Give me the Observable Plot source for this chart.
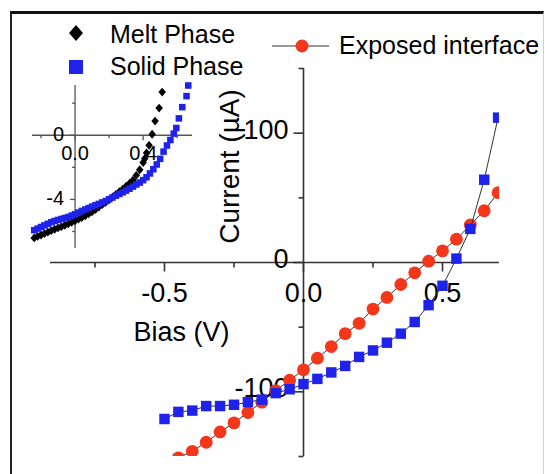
<!DOCTYPE html>
<html><head><meta charset="utf-8">
<script src="https://cdn.jsdelivr.net/npm/d3@7"></script>
<script src="https://cdn.jsdelivr.net/npm/@observablehq/plot@0.6"></script>
<style>
html,body{margin:0;padding:0;background:#fff;overflow:hidden;}
#wrap{position:relative;width:545px;height:474px;overflow:hidden;font-family:"Liberation Sans",Arial,sans-serif;}
#wrap svg{position:absolute;left:0;top:0;}
.frame{position:absolute;left:10px;top:11px;width:531px;height:480px;border-top:3px solid #111;border-left:2px solid #222;border-right:1px solid #d0d0d0;}
</style></head><body><div id="wrap"><div class="frame"></div></div>
<script>
// ---- Main chart data (Bias V, Current µA) ----
const exposedV = [-0.45,-0.40,-0.35,-0.30,-0.25,-0.20,-0.15,-0.10,-0.05,0.00,0.05,0.10,0.15,0.20,0.25,0.30,0.35,0.40,0.45,0.50,0.55,0.60,0.65,0.70];
const exposedI = [-151,-146,-139,-131,-124,-116,-108,-99,-91,-83,-74,-65,-55,-47,-36,-27,-17,-8,1,9,18,29,40,54];
const solidV = [-0.50,-0.45,-0.40,-0.35,-0.30,-0.25,-0.20,-0.15,-0.10,-0.05,0.00,0.05,0.10,0.15,0.20,0.25,0.30,0.35,0.40,0.45,0.50,0.55,0.60,0.65,0.70];
const solidI = [-121,-115.5,-114.5,-111,-111,-110,-108,-106,-101,-98,-94,-90,-85,-80,-73,-68,-62,-55,-46,-33,-18,3,26,64,112];

// ---- Inset data ----
const meltV = [-0.24,-0.22,-0.20,-0.18,-0.16,-0.14,-0.12,-0.10,-0.08,-0.06,-0.04,-0.02,0.00,0.02,0.04,0.06,0.08,0.10,0.12,0.14,0.16,0.18,0.20,0.22,0.24,0.26,0.28,0.30,0.32,0.34,0.36,0.38,0.40,0.41,0.42,0.435,0.453,0.47,0.494,0.512];
const meltI = [-6.40,-6.31,-6.22,-6.13,-6.04,-5.95,-5.86,-5.78,-5.70,-5.61,-5.52,-5.43,-5.33,-5.23,-5.13,-5.02,-4.90,-4.77,-4.63,-4.48,-4.33,-4.18,-4.02,-3.86,-3.69,-3.52,-3.36,-3.18,-3.00,-2.80,-2.50,-2.15,-1.70,-1.45,-1.10,-0.63,0.06,0.88,1.69,2.69];
const solidInsetV = [-0.24,-0.22,-0.20,-0.18,-0.16,-0.14,-0.12,-0.10,-0.08,-0.06,-0.04,-0.02,0.00,0.02,0.04,0.06,0.08,0.10,0.12,0.14,0.16,0.18,0.20,0.22,0.24,0.26,0.28,0.30,0.32,0.34,0.36,0.38,0.40,0.42,0.44,0.46,0.48,0.50,0.52,0.54,0.56,0.58,0.595,0.61,0.63,0.655,0.665];
const solidInsetI = [-5.92,-5.82,-5.72,-5.62,-5.52,-5.42,-5.35,-5.28,-5.22,-5.16,-5.10,-5.01,-4.92,-4.82,-4.72,-4.63,-4.54,-4.45,-4.36,-4.28,-4.19,-4.10,-3.99,-3.88,-3.77,-3.66,-3.56,-3.45,-3.33,-3.20,-3.07,-2.95,-2.80,-2.62,-2.38,-2.12,-1.82,-1.47,-1.02,-0.64,-0.30,0.10,0.45,1.05,1.75,2.44,3.1];

// ---- Ticks & labels ----
const mainXDomain = [-0.91, 0.705];
const mainYDomain = [-150, 150];
const mainXMajor = [-0.5, 0, 0.5];
const mainXLabels = ["-0.5", "0.0", "0.5"];
const mainXMinor = [-0.75, -0.25, 0.25];
const mainYMajor = [100, 0, -100];
const mainYLabels = ["100", "0", "-100"];
const mainYMinor = [150, 50, -50, -150];
const insetXDomain = [-0.25, 0.69];
const insetYDomain = [-7.06, 3.1];
const insetXMajor = [0, 0.4];
const insetXLabels = ["0.0", "0.4"];
const insetXMinor = [-0.2, 0.2, 0.6];
const insetYMajor = [0, -4];
const insetYLabels = ["0", "-4"];
const insetYMinor = [2, -2, -6];

const seriesNames = ["Melt Phase", "Solid Phase", "Exposed interface"];
const xTitle = "Bias (V)";
const yTitle = "Current (\u00b5A)";

const RED = "#f4361a", BLUE = "#1e22ea", LINE = "#333";
const FONT = "Liberation Sans, Arial, sans-serif";

const exposed = exposedV.map((v, i) => ({v, i: exposedI[i]}));
const solid = solidV.map((v, i) => ({v, i: solidI[i]}));
const melt = meltV.map((v, i) => ({v, i: meltI[i]}));
const solidInset = solidInsetV.map((v, i) => ({v, i: solidInsetI[i]}));

const tickSym = (dx, dy) => ({draw(ctx) { ctx.moveTo(0, 0); ctx.lineTo(dx, dy); }});
const diamond = {draw(ctx, size) { const h = Math.sqrt(size / Math.PI); ctx.moveTo(0, -h); ctx.lineTo(h * 0.85, 0); ctx.lineTo(0, h); ctx.lineTo(-h * 0.85, 0); ctx.closePath(); }};
const zero = () => 0;

const main = Plot.plot({
  width: 545, height: 474,
  marginLeft: 50, marginRight: 46, marginTop: 68, marginBottom: 18,
  x: {domain: mainXDomain, axis: null},
  y: {domain: mainYDomain, axis: null},
  style: {background: "transparent", fontFamily: FONT, color: "#000", overflow: "visible"},
  marks: [
    Plot.ruleY([0], {stroke: LINE, strokeWidth: 1.6}),
    Plot.ruleX([0], {stroke: LINE, strokeWidth: 1.6}),
    Plot.dot(mainXMajor, {x: d => d, y: zero, symbol: tickSym(0, 9), stroke: LINE, strokeWidth: 1.6, fill: "none"}),
    Plot.dot(mainXMinor, {x: d => d, y: zero, symbol: tickSym(0, 5), stroke: LINE, strokeWidth: 1.6, fill: "none"}),
    Plot.dot(mainYMajor, {x: zero, y: d => d, symbol: tickSym(-10, 0), stroke: LINE, strokeWidth: 1.6, fill: "none"}),
    Plot.dot(mainYMinor, {x: zero, y: d => d, symbol: tickSym(-5, 0), stroke: LINE, strokeWidth: 1.6, fill: "none"}),
    Plot.text(mainXMajor, {x: d => d, y: zero, text: (d, i) => mainXLabels[i], dy: 31, fontSize: 27, fill: "#000"}),
    Plot.text(mainYMajor, {x: zero, y: d => d, text: (d, i) => mainYLabels[i], dx: -15, dy: -3, textAnchor: "end", fontSize: 27, fill: "#000"}),
    Plot.text([xTitle], {frameAnchor: "top-left", dx: 131, dy: 264, textAnchor: "middle", lineAnchor: "middle", fontSize: 27, fill: "#000"}),
    Plot.text([yTitle], {frameAnchor: "top-left", dx: 180, dy: 98, rotate: -90, textAnchor: "middle", lineAnchor: "middle", fontSize: 28, fill: "#000"}),
    Plot.line(exposed, {x: "v", y: "i", stroke: LINE, strokeWidth: 1, clip: true}),
    Plot.dot(exposed, {x: "v", y: "i", r: 6.4, fill: RED, symbol: "circle", clip: true}),
    Plot.line(solid, {x: "v", y: "i", stroke: LINE, strokeWidth: 1, clip: true}),
    Plot.dot(solid, {x: "v", y: "i", r: 5.9, fill: BLUE, symbol: "square", clip: true})
  ]
});

const inset = Plot.plot({
  width: 545, height: 474,
  marginLeft: 32, marginRight: 353, marginTop: 85, marginBottom: 226,
  x: {domain: insetXDomain, axis: null},
  y: {domain: insetYDomain, axis: null},
  style: {background: "transparent", fontFamily: FONT, color: "#000", overflow: "visible"},
  marks: [
    Plot.ruleY([0], {stroke: "#555", strokeWidth: 1.3}),
    Plot.ruleX([0], {stroke: "#555", strokeWidth: 1.3}),
    Plot.dot(insetXMajor, {x: d => d, y: zero, symbol: tickSym(0, 5), stroke: "#555", strokeWidth: 1.3, fill: "none"}),
    Plot.dot(insetXMinor, {x: d => d, y: zero, symbol: tickSym(0, 3), stroke: "#555", strokeWidth: 1.3, fill: "none"}),
    Plot.dot(insetYMajor, {x: zero, y: d => d, symbol: tickSym(-5, 0), stroke: "#555", strokeWidth: 1.3, fill: "none"}),
    Plot.dot(insetYMinor, {x: zero, y: d => d, symbol: tickSym(-3, 0), stroke: "#555", strokeWidth: 1.3, fill: "none"}),
    Plot.text(insetXMajor, {x: d => d, y: zero, text: (d, i) => insetXLabels[i], dy: 18, fontSize: 20, fill: "#000"}),
    Plot.text(insetYMajor, {x: zero, y: d => d, text: (d, i) => insetYLabels[i], dx: -11, dy: -1, textAnchor: "end", fontSize: 20, fill: "#000"}),
    Plot.dot(melt, {x: "v", y: "i", r: 4.4, fill: "#000", symbol: diamond}),
    Plot.dot(solidInset, {x: "v", y: "i", r: 3.7, fill: BLUE, symbol: "square"})
  ]
});

const wrap = document.getElementById("wrap");
wrap.appendChild(main);
wrap.appendChild(inset);

// ---- Legend overlay ----
const ns = "http://www.w3.org/2000/svg";
const leg = document.createElementNS(ns, "svg");
leg.setAttribute("width", 545); leg.setAttribute("height", 474);
leg.style.fontFamily = FONT;
leg.innerHTML = `
  <path d="M76,25 L83,33 L76,41 L69,33 Z" fill="#000"/>
  <text x="110" y="43" font-size="25">${seriesNames[0]}</text>
  <rect x="69" y="60" width="14" height="14" fill="${BLUE}"/>
  <text x="110" y="75" font-size="25">${seriesNames[1]}</text>
  <line x1="272" y1="46" x2="329" y2="46" stroke="${LINE}" stroke-width="1.2"/>
  <circle cx="302" cy="46" r="6.5" fill="${RED}"/>
  <text x="339" y="54" font-size="25">${seriesNames[2]}</text>`;
wrap.appendChild(leg);
</script></body></html>
